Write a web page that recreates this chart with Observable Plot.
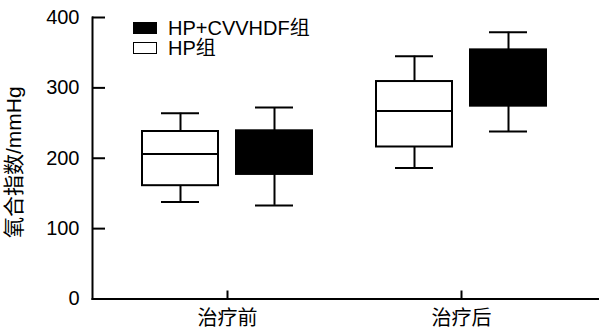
<!DOCTYPE html>
<html>
<head>
<meta charset="utf-8">
<script src="https://cdn.jsdelivr.net/npm/d3@7"></script>
<script src="https://cdn.jsdelivr.net/npm/@observablehq/plot@0.6"></script>
<style>
  html, body { margin: 0; padding: 0; background: #fff; }
  #wrap { position: relative; width: 599px; height: 333px; font-family: "Liberation Sans", Arial, "Noto Sans CJK SC", sans-serif; }
  .legend { position: absolute; left: 133px; top: 18px; font-size: 20px; line-height: 20px; color: #000; }
  .legend .row { display: flex; align-items: center; height: 20px; white-space: nowrap; }
  .legend .sw { width: 24px; height: 12px; box-sizing: border-box; border: 1.6px solid #000; margin-right: 11px; }
</style>
</head>
<body>
<div id="wrap"></div>
<script>
// ---- data ----
const categories = ["治疗前", "治疗后"];
const seriesNames = ["HP+CVVHDF组", "HP组"];
const yTicks = [0, 100, 200, 300, 400];
const yLabel = "氧合指数/mmHg";

// HP组 (white boxes)
const hpMin    = [138, 186];
const hpQ1     = [161, 216];
const hpMedian = [206, 267];
const hpQ3     = [238, 309];
const hpMax    = [264, 345];

// HP+CVVHDF组 (black boxes)
const cvMin    = [133, 238];
const cvQ1     = [177, 274];
const cvMedian = [208, 315];
const cvQ3     = [239, 354];
const cvMax    = [272, 379];

function table(mins, q1s, meds, q3s, maxs) {
  return categories.map((c, i) => ({cat: c, min: mins[i], q1: q1s[i], median: meds[i], q3: q3s[i], max: maxs[i]}));
}

const series = [
  {name: seriesNames[1], data: table(hpMin, hpQ1, hpMedian, hpQ3, hpMax), fill: "white", dx: -47},
  {name: seriesNames[0], data: table(cvMin, cvQ1, cvMedian, cvQ3, cvMax), fill: "black", dx: 47}
];

const boxInset = 79;
const capInset = 98;
const sw = 2;

const marks = [];
for (const s of series) {
  marks.push(
    Plot.ruleX(s.data, {x: "cat", y1: "min", y2: "max", dx: s.dx, stroke: "black", strokeWidth: sw}),
    Plot.tickY(s.data, {x: "cat", y: "min", dx: s.dx, stroke: "black", strokeWidth: sw, insetLeft: capInset, insetRight: capInset}),
    Plot.tickY(s.data, {x: "cat", y: "max", dx: s.dx, stroke: "black", strokeWidth: sw, insetLeft: capInset, insetRight: capInset}),
    Plot.barY(s.data, {x: "cat", y1: "q1", y2: "q3", dx: s.dx, fill: s.fill, stroke: "black", strokeWidth: sw, insetLeft: boxInset, insetRight: boxInset}),
    Plot.tickY(s.data, {x: "cat", y: "median", dx: s.dx, stroke: "black", strokeWidth: sw, insetLeft: boxInset, insetRight: boxInset})
  );
}

const chart = Plot.plot({
  width: 599,
  height: 333,
  marginLeft: 92,
  marginRight: 0,
  marginTop: 17,
  marginBottom: 34.5,
  style: {fontFamily: "'Liberation Sans', Arial, 'Noto Sans CJK SC', sans-serif", fontSize: "20px", background: "white", color: "black"},
  x: {type: "band", domain: categories, range: [109.4, 578.6], padding: 0},
  y: {domain: [0, 400], range: [298.5, 17]},
  marks: [
    ...marks,
    Plot.frame({anchor: "left", stroke: "black", strokeWidth: sw}),
    Plot.frame({anchor: "bottom", stroke: "black", strokeWidth: sw}),
    Plot.axisY({ticks: yTicks, tickSize: 0, tickPadding: 13, fontSize: 20, label: null}),
    Plot.axisY({ticks: yTicks, tickSize: 13, dx: 13, tickFormat: () => "", label: null, strokeWidth: sw}),
    Plot.axisX({tickSize: 0, tickPadding: 12, fontSize: 20, label: null}),
    Plot.axisX({tickSize: 8, dy: -8, tickFormat: () => "", label: null, strokeWidth: sw}),
    Plot.text([yLabel], {text: d => d, frameAnchor: "left", textAnchor: "middle", lineAnchor: "middle", rotate: -90, dx: -78.5, dy: 4, fontSize: 21})
  ]
});

const wrap = document.getElementById("wrap");
wrap.appendChild(chart);

// legend overlay
const legend = document.createElement("div");
legend.className = "legend";
const legendItems = [
  {name: seriesNames[0], fill: "black"},
  {name: seriesNames[1], fill: "white"}
];
for (const item of legendItems) {
  const row = document.createElement("div");
  row.className = "row";
  const swatch = document.createElement("span");
  swatch.className = "sw";
  swatch.style.background = item.fill;
  const label = document.createElement("span");
  label.textContent = item.name;
  row.appendChild(swatch);
  row.appendChild(label);
  legend.appendChild(row);
}
wrap.appendChild(legend);
</script>
</body>
</html>
